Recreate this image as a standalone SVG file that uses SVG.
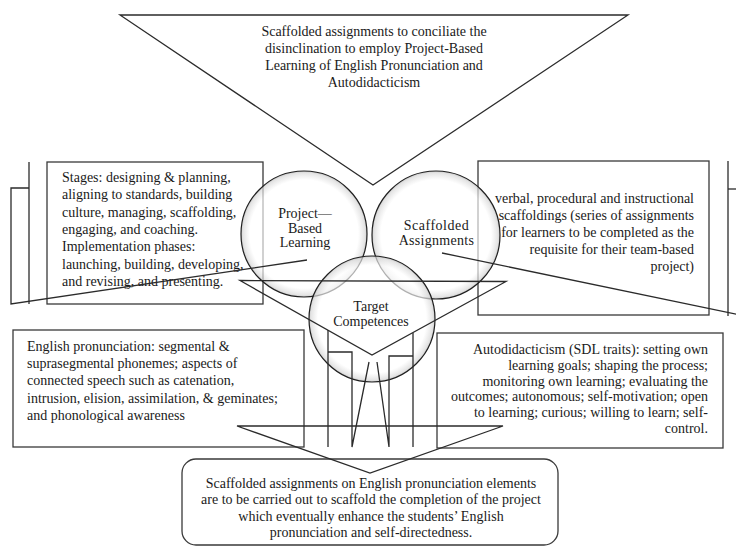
<svg xmlns="http://www.w3.org/2000/svg" width="736" height="547" viewBox="0 0 736 547">
<style>
text{font-family:"Liberation Serif","Times New Roman",serif;font-size:14px;fill:#1a1a1a}
.ln{fill:none;stroke:#2b2b2b;stroke-width:1.3;stroke-linejoin:miter}
.box{fill:none;stroke:#3a3a3a;stroke-width:1.3}
.cir{fill:url(#glow);stroke:#1f1f1f;stroke-width:1.2}
.m{text-anchor:middle}
.e{text-anchor:end}
</style>
<defs>
<radialGradient id="glow" cx="0.5" cy="0.5" r="0.5">
<stop offset="0" stop-color="#fff" stop-opacity="0.6"/>
<stop offset="0.86" stop-color="#fff" stop-opacity="0.65"/>
<stop offset="0.97" stop-color="#d8d8d8" stop-opacity="0.7"/>
<stop offset="1" stop-color="#bbb" stop-opacity="0.8"/>
</radialGradient>
</defs>
<rect width="736" height="547" fill="#fff"/>
<g id="goal">
<polygon class="ln" points="120,15 628,15 373,185"/>
<text class="m" x="374" y="36">Scaffolded assignments to conciliate the</text>
<text class="m" x="374" y="53">disinclination to employ Project-Based</text>
<text class="m" x="374" y="70">Learning of English Pronunciation and</text>
<text class="m" x="374" y="87">Autodidacticism</text>
</g>
<g id="pbl-box">
<rect class="box" x="47" y="162" width="216" height="142"/>
<text x="62" y="182">Stages: designing &amp; planning,</text>
<text x="62" y="199.3">aligning to standards, building</text>
<text x="62" y="216.6">culture, managing, scaffolding,</text>
<text x="62" y="233.9">engaging, and coaching.</text>
<text x="62" y="251.2">Implementation phases:</text>
<text x="62" y="268.5">launching, building, developing,</text>
<text x="62" y="285.8">and revising, and presenting.</text>
</g>
<g id="sa-box">
<rect class="box" x="478" y="161" width="231" height="154"/>
<text class="e" x="694" y="202.7">verbal, procedural and instructional</text>
<text class="e" x="694" y="219.7">scaffoldings (series of assignments</text>
<text class="e" x="694" y="236.7">for learners to be completed as the</text>
<text class="e" x="694" y="253.7">requisite for their team-based</text>
<text class="e" x="694" y="270.7">project)</text>
</g>
<g id="ep-box">
<rect class="box" x="13" y="330" width="291" height="117"/>
<text x="27" y="351">English pronunciation: segmental &amp;</text>
<text x="27" y="368.2">suprasegmental phonemes; aspects of</text>
<text x="27" y="385.4">connected speech such as catenation,</text>
<text x="27" y="402.6">intrusion, elision, assimilation, &amp; geminates;</text>
<text x="27" y="419.8">and phonological awareness</text>
</g>
<g id="sdl-box">
<rect class="box" x="437" y="333" width="286" height="115"/>
<text class="e" x="708" y="354.3">Autodidacticism (SDL traits): setting own</text>
<text class="e" x="708" y="370">learning goals; shaping the process;</text>
<text class="e" x="708" y="385.7">monitoring own learning; evaluating the</text>
<text class="e" x="708" y="401.4">outcomes; autonomous; self-motivation; open</text>
<text class="e" x="708" y="417.1">to learning; curious; willing to learn; self-</text>
<text class="e" x="708" y="432.8">control.</text>
</g>
<g id="outcome">
<rect class="box" x="182" y="459" width="376" height="86" rx="14"/>
<text class="m" x="371" y="488.3">Scaffolded assignments on English pronunciation elements</text>
<text class="m" x="371" y="504.4">are to be carried out to scaffold the completion of the project</text>
<text class="m" x="371" y="520.5">which eventually enhance the students’ English</text>
<text class="m" x="371" y="536.6">pronunciation and self-directedness.</text>
</g>
<g id="pbl">
<circle class="cir" cx="304" cy="234" r="63"/>
<text class="m" x="305" y="218.3">Project—</text>
<text class="m" x="305" y="232.8">Based</text>
<text class="m" x="305" y="247.3">Learning</text>
</g>
<g id="sa">
<circle class="cir" cx="436" cy="235" r="64"/>
<text class="m" x="436.5" y="230" letter-spacing="0.5">Scaffolded</text>
<text class="m" x="436.5" y="244.5" letter-spacing="0.3">Assignments</text>
</g>
<g id="tc">
<circle class="cir" cx="372" cy="319" r="63"/>
<text class="m" x="371" y="310.5">Target</text>
<text class="m" x="371" y="325.5">Competences</text>
</g>
<g id="connectors">
<polyline class="ln" points="29,188 11,188 11,304 307,260"/>
<line class="ln" x1="29" y1="162" x2="29" y2="304"/>
<polyline class="ln" points="745,189 728,189"/>
<line class="ln" x1="728" y1="161" x2="728" y2="316"/>
<line class="ln" x1="442" y1="253" x2="750" y2="317"/>
<polygon class="ln" points="240,280.5 506,281.5 372,355"/>
<polyline class="ln" points="328,352 352,352 352,447 369,362"/>
<line class="ln" x1="328" y1="330" x2="328" y2="447"/>
<polyline class="ln" points="413,356 389,356 389,447 377,362"/>
<line class="ln" x1="413" y1="333" x2="413" y2="447"/>
<polygon class="ln" points="237,426 503,426 370,473"/>
</g>
</svg>
